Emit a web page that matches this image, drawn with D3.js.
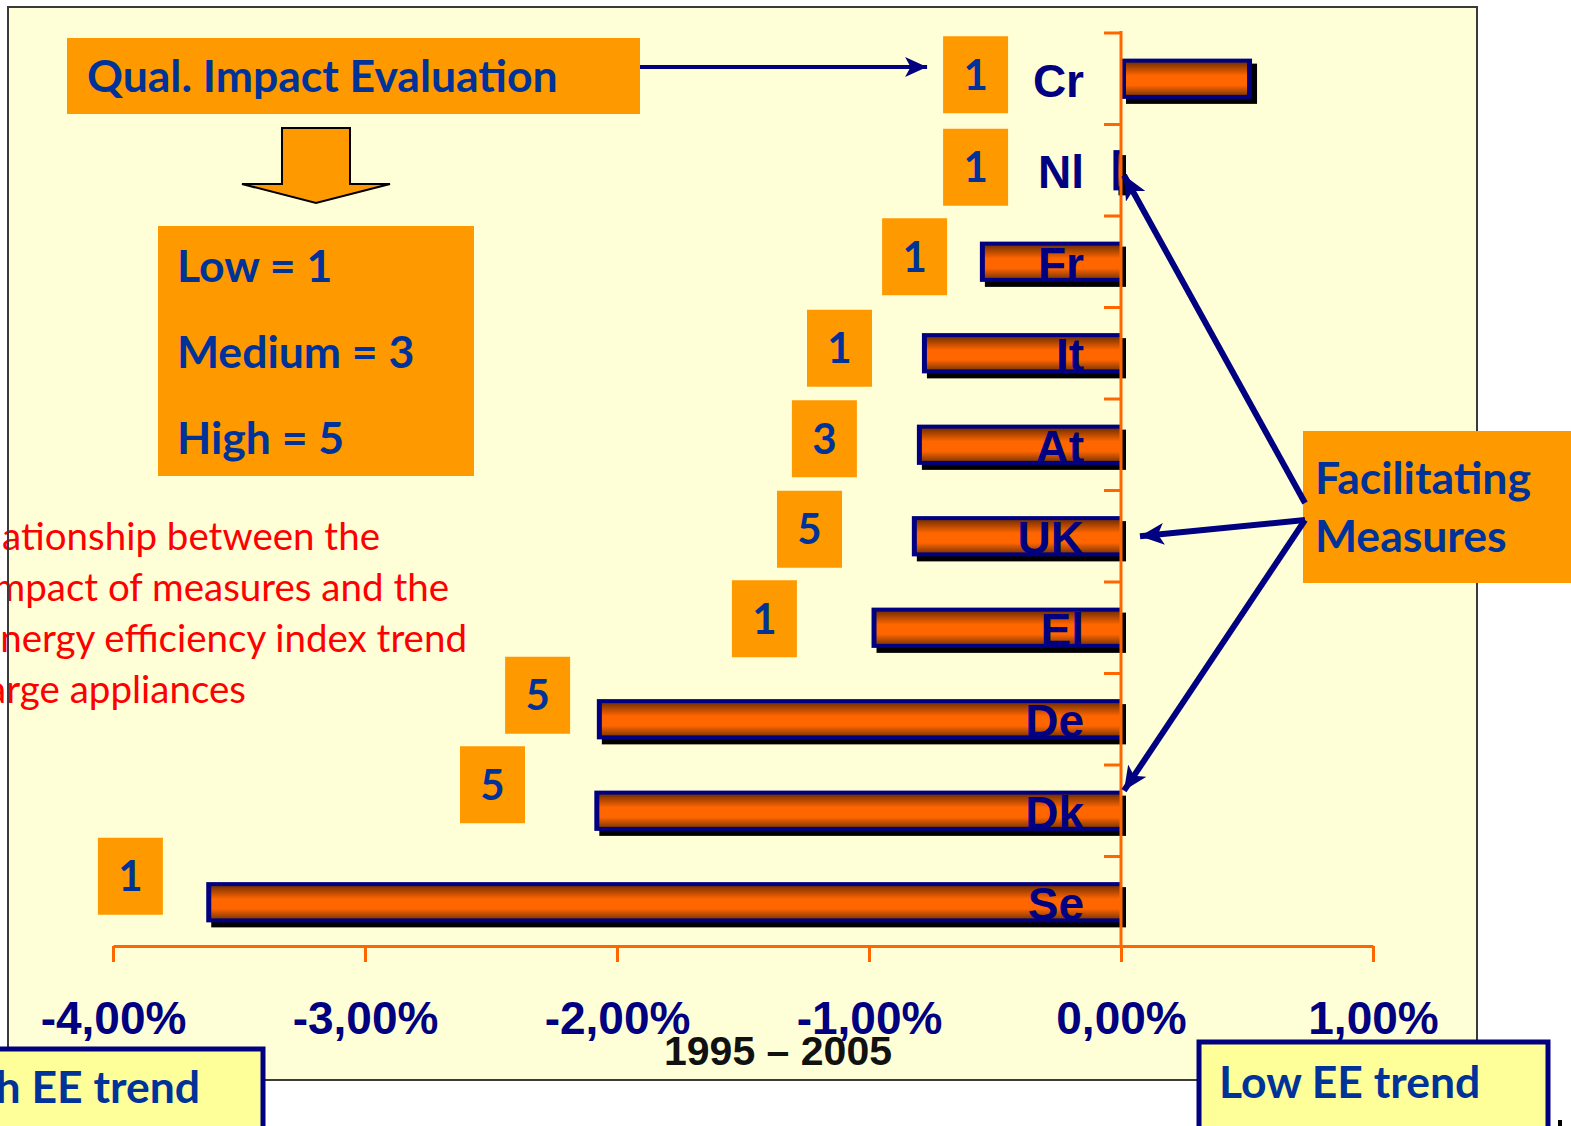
<!DOCTYPE html>
<html>
<head>
<meta charset="utf-8">
<script src="https://cdn.jsdelivr.net/npm/d3@7/dist/d3.min.js"></script>
<style>
  html, body { margin: 0; padding: 0; background: #ffffff; overflow: hidden; }
  svg { display: block; }
</style>
</head>
<body>
<svg id="chart" width="1571" height="1126"></svg>
<script>
// Energy efficiency index trend 1995–2005 for large appliances, by country
const categories = ["Cr", "Nl", "Fr", "It", "At", "UK", "El", "De", "Dk", "Se"];
const eeTrend = [0.52, -0.03, -0.56, -0.79, -0.81, -0.83, -0.99, -2.08, -2.09, -3.63];
const impactScore = [1, 1, 1, 1, 3, 5, 1, 5, 5, 1];
const xTicks = [-4, -3, -2, -1, 0, 1];
const legendLines = ["Low = 1", "Medium = 3", "High = 5"];
const noteLines = ["Relationship between the", "impact of measures and the", "energy efficiency index trend", "large appliances"];
const periodLabel = "1995 \u2013 2005";

// Where each score box sits: left edge in axis units, vertical nudge from the bar centre
const scoreBoxAt = [[-0.706, -4], [-0.706, -3], [-0.948, -5], [-1.246, -5], [-1.306, -6],
                    [-1.365, -7], [-1.544, -9], [-2.444, -24], [-2.623, -26], [-4.06, -26]];

const NAVY = "#000080", BLUE = "#003399", ORANGE_BOX = "#FF9900", ORANGE = "#FF6600";
const ARIAL = "'Liberation Sans', Arial, sans-serif";
const CAL = "Lato, 'Open Sans', sans-serif";
const CAL_SIZE = 44.5;

const svg = d3.select("#chart");
const defs = svg.append("defs");

const grad = defs.append("linearGradient").attr("id", "barGrad")
  .attr("x1", 0).attr("y1", 0).attr("x2", 0).attr("y2", 1);
grad.append("stop").attr("offset", "0%").attr("stop-color", "#7a3000");
grad.append("stop").attr("offset", "40%").attr("stop-color", "#ff6600");
grad.append("stop").attr("offset", "70%").attr("stop-color", "#ff6600");
grad.append("stop").attr("offset", "100%").attr("stop-color", "#8a3a00");

function arrowMarker(id, w, h) {
  defs.append("marker").attr("id", id)
    .attr("viewBox", `0 0 ${w} ${h}`).attr("refX", w).attr("refY", h / 2)
    .attr("markerUnits", "userSpaceOnUse").attr("markerWidth", w).attr("markerHeight", h)
    .attr("orient", "auto")
    .append("path").attr("d", `M0,0 L${w},${h / 2} L0,${h} L${w * 0.25},${h / 2} Z`).attr("fill", NAVY);
}
arrowMarker("arrowHead", 22, 20);
arrowMarker("arrowHeadBig", 24, 22);

// Scales
const x = d3.scaleLinear().domain([-4, 1]).range([113, 1373]);
const y = d3.scaleBand().domain(categories).range([33, 948]).paddingInner(0.56).paddingOuter(0.28);
const bw = y.bandwidth();
const rows = categories.map((c, i) => ({ c, v: eeTrend[i], s: impactScore[i], at: scoreBoxAt[i] }));

// Plot area background
svg.append("rect").attr("x", 8).attr("y", 7).attr("width", 1469).attr("height", 1073).attr("fill", "#FFFFD7");

// Explanatory note (runs off the left edge)
const note = svg.append("g").attr("font-family", CAL).attr("font-size", 38.5).attr("fill", "#FF0000");
const noteRight = [380, 449, 467, 246];
noteLines.forEach((t, i) => {
  note.append("text").attr("x", noteRight[i]).attr("y", 550 + i * 51).attr("text-anchor", "end").text(t);
});

// Plot frame
svg.append("rect").attr("x", 8).attr("y", 7).attr("width", 1469).attr("height", 1073)
  .attr("fill", "none").attr("stroke", "#3a3a3a").attr("stroke-width", 2);

// Bars: shadow, navy outline, gradient fill
const bars = svg.append("g");
const bar = bars.selectAll("g").data(rows).join("g");
bar.append("rect").attr("class", "shadow")
  .attr("x", d => x(Math.min(0, d.v)) + 5).attr("y", d => y(d.c) + 5)
  .attr("width", d => Math.abs(x(d.v) - x(0))).attr("height", bw).attr("fill", "#000");
bar.append("rect").attr("class", "outline")
  .attr("x", d => x(Math.min(0, d.v))).attr("y", d => y(d.c))
  .attr("width", d => Math.abs(x(d.v) - x(0))).attr("height", bw).attr("fill", NAVY);
bar.append("rect").attr("class", "fill")
  .attr("x", d => x(Math.min(0, d.v)) + 5).attr("y", d => y(d.c) + 4)
  .attr("width", d => Math.max(0, Math.abs(x(d.v) - x(0)) - (d.v > 0 ? 10 : 5)))
  .attr("height", bw - 8).attr("fill", "url(#barGrad)");

// Category labels
svg.append("g").selectAll("text").data(rows).join("text")
  .attr("x", 1084).attr("y", d => y(d.c) + bw / 2 + 18)
  .attr("text-anchor", "end").attr("font-family", ARIAL).attr("font-weight", "bold")
  .attr("font-size", 46).attr("fill", NAVY).text(d => d.c);

// Vertical category axis at zero with ticks on band boundaries
const yAxis = svg.append("g");
yAxis.append("line").attr("x1", x(0)).attr("x2", x(0)).attr("y1", 31).attr("y2", 947)
  .attr("stroke", ORANGE).attr("stroke-width", 3);
yAxis.selectAll("line.tick").data(d3.range(categories.length)).join("line").attr("class", "tick")
  .attr("x1", x(0) - 17).attr("x2", x(0))
  .attr("y1", i => y.range()[0] + i * y.step()).attr("y2", i => y.range()[0] + i * y.step())
  .attr("stroke", ORANGE).attr("stroke-width", 3);

// Horizontal value axis
const fmt = d => d3.format(".2f")(d).replace("\u2212", "-").replace(".", ",") + "%";
const xAxis = svg.append("g").attr("transform", "translate(0,946)")
  .call(d3.axisBottom(x).tickValues(xTicks).tickSize(16).tickSizeOuter(0).tickFormat(fmt));
xAxis.select(".domain").attr("stroke", ORANGE).attr("stroke-width", 3);
xAxis.selectAll(".tick line").attr("stroke", ORANGE).attr("stroke-width", 3);
xAxis.selectAll(".tick text").attr("y", 88).attr("dy", null)
  .attr("font-family", ARIAL).attr("font-weight", "bold").attr("font-size", 46).attr("fill", NAVY);

// Period label
svg.append("text").attr("x", 778).attr("y", 1065).attr("text-anchor", "middle")
  .attr("font-family", ARIAL).attr("font-weight", "bold").attr("font-size", 41).attr("fill", "#111")
  .text(periodLabel);

// Score boxes
const boxW = 65, boxH = 77;
const sb = svg.append("g").selectAll("g").data(rows).join("g")
  .attr("transform", d => `translate(${x(d.at[0])},${y(d.c) + bw / 2 + d.at[1] - boxH / 2})`);
sb.append("rect").attr("width", boxW).attr("height", boxH).attr("fill", ORANGE_BOX);
sb.append("text").attr("x", boxW / 2).attr("y", boxH / 2 + 15).attr("text-anchor", "middle")
  .attr("font-family", CAL).attr("font-weight", "bold").attr("font-size", 42).attr("fill", BLUE)
  .text(d => d.s);

// Title box and pointer to the first score box
svg.append("rect").attr("x", 67).attr("y", 38).attr("width", 573).attr("height", 76).attr("fill", ORANGE_BOX);
svg.append("text").attr("x", 87).attr("y", 92).attr("font-family", CAL).attr("font-weight", "bold")
  .attr("font-size", CAL_SIZE).attr("fill", BLUE).text("Qual. Impact Evaluation");
svg.append("line").attr("x1", 640).attr("y1", 67).attr("x2", x(scoreBoxAt[0][0]) - 16).attr("y2", 67)
  .attr("stroke", NAVY).attr("stroke-width", 4).attr("marker-end", "url(#arrowHead)");

// Block arrow pointing down to the legend
svg.append("path")
  .attr("d", "M282,128 L350,128 L350,184 L390,184 L316,203 L242,184 L282,184 Z")
  .attr("fill", ORANGE_BOX).attr("stroke", "#000").attr("stroke-width", 2).attr("stroke-linejoin", "miter");

// Legend for the scores
svg.append("rect").attr("x", 158).attr("y", 226).attr("width", 316).attr("height", 250).attr("fill", ORANGE_BOX);
svg.append("g").selectAll("text").data(legendLines).join("text")
  .attr("x", 177).attr("y", (d, i) => 282 + i * 86)
  .attr("font-family", CAL).attr("font-weight", "bold").attr("font-size", CAL_SIZE).attr("fill", BLUE)
  .text(d => d);

// Facilitating measures box with pointers to Nl, UK and Dk
svg.append("rect").attr("x", 1303).attr("y", 431).attr("width", 280).attr("height", 152).attr("fill", ORANGE_BOX);
svg.append("text").attr("x", 1315).attr("y", 494).attr("font-family", CAL).attr("font-weight", "bold")
  .attr("font-size", CAL_SIZE).attr("fill", BLUE).text("Facilitating");
svg.append("text").attr("x", 1315).attr("y", 552).attr("font-family", CAL).attr("font-weight", "bold")
  .attr("font-size", CAL_SIZE).attr("fill", BLUE).text("Measures");
const pointers = [
  { from: [1305, 503], to: [x(0) + 3, y("Nl") + bw / 2 + 5] },
  { from: [1305, 520], to: [x(0) + 19, y("UK") + bw / 2] },
  { from: [1305, 520], to: [x(0) + 3, y("Dk")] }
];
svg.append("g").selectAll("line").data(pointers).join("line")
  .attr("x1", d => d.from[0]).attr("y1", d => d.from[1])
  .attr("x2", d => d.to[0]).attr("y2", d => d.to[1])
  .attr("stroke", NAVY).attr("stroke-width", 6).attr("marker-end", "url(#arrowHeadBig)");

// Trend direction boxes
svg.append("rect").attr("x", -20).attr("y", 1049).attr("width", 283).attr("height", 100)
  .attr("fill", "#FFFF99").attr("stroke", NAVY).attr("stroke-width", 5);
svg.append("text").attr("x", 200).attr("y", 1103).attr("text-anchor", "end")
  .attr("font-family", CAL).attr("font-weight", "bold").attr("font-size", CAL_SIZE).attr("fill", BLUE)
  .text("High EE trend");
svg.append("rect").attr("x", 1199).attr("y", 1042).attr("width", 349).attr("height", 100)
  .attr("fill", "#FFFF99").attr("stroke", NAVY).attr("stroke-width", 5);
svg.append("text").attr("x", 1219).attr("y", 1098)
  .attr("font-family", CAL).attr("font-weight", "bold").attr("font-size", CAL_SIZE).attr("fill", BLUE)
  .text("Low EE trend");
svg.append("rect").attr("x", 1558).attr("y", 1120).attr("width", 4).attr("height", 6).attr("fill", "#000");
</script>
</body>
</html>
